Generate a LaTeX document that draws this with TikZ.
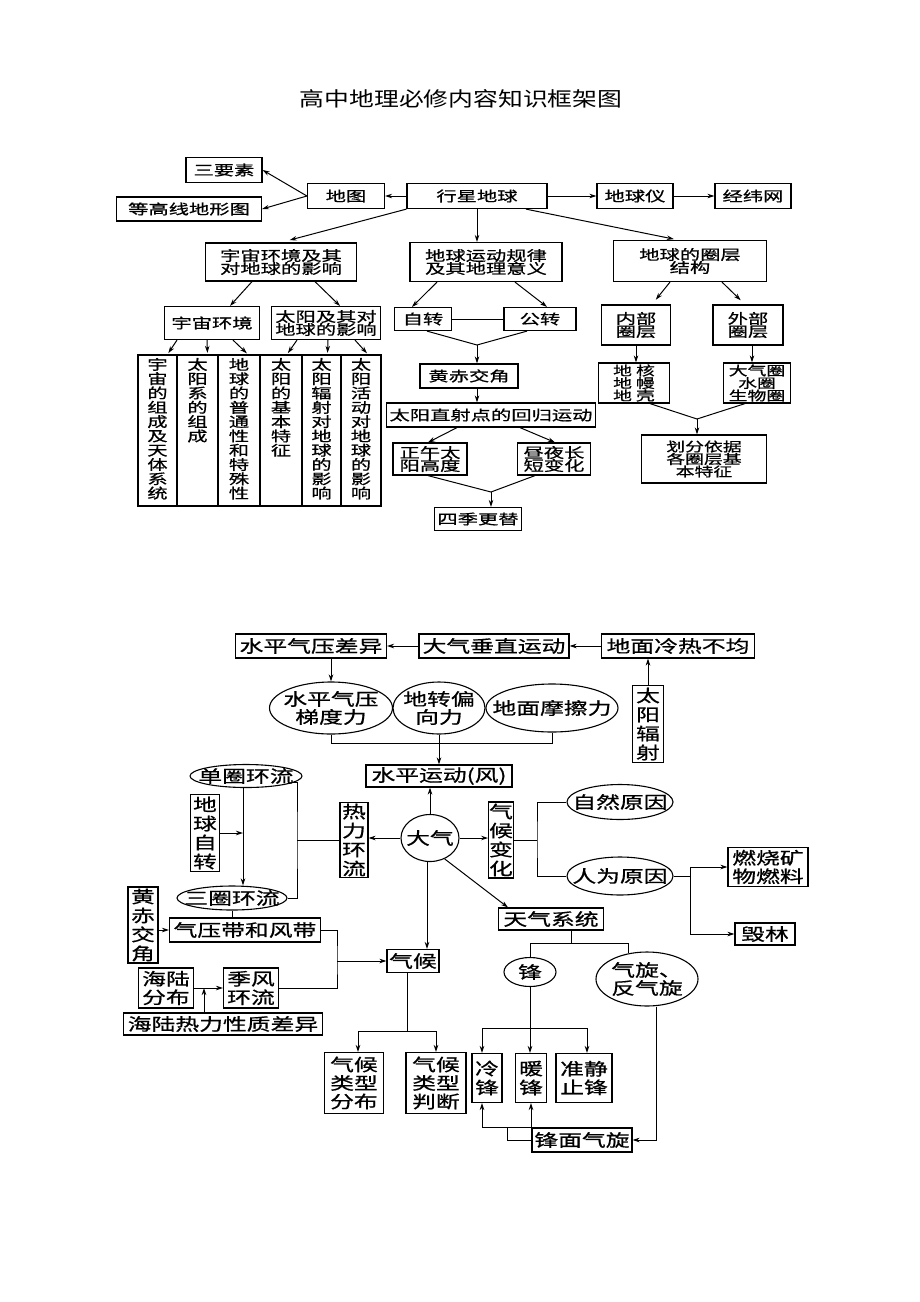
\documentclass[tikz,border=0pt]{standalone}
\usepackage{fontspec}
\setmainfont{Noto Sans CJK SC}
\newfontfamily\cjktitle[FakeStretch=1.24]{Noto Sans CJK SC}
\newfontfamily\cjktop[FakeStretch=1.45, FakeBold=0.8]{Noto Sans CJK SC}
\newfontfamily\cjkbot[FakeStretch=1.4, FakeBold=0.8]{Noto Sans CJK SC}
\newcommand\tightskip{\lineskiplimit-20pt\relax}
\usepackage{tikz}
\usetikzlibrary{shapes.geometric}
\usetikzlibrary{arrows.meta}
\tikzstyle{tbox}=[rectangle, draw, line width=1.2pt, inner sep=1pt, align=center,
  font=\cjktop\fontsize{14}{13}\selectfont\tightskip]
\tikzstyle{tsmall}=[tbox, font=\cjktop\fontsize{13}{12.5}\selectfont\tightskip]
\tikzstyle{tcol}=[tbox, inner sep=3pt, font=\cjktop\fontsize{14}{14.3}\selectfont]
\tikzstyle{bbox}=[rectangle, draw, line width=1.1pt, inner sep=1pt, align=center,
  font=\cjkbot\fontsize{17}{18.5}\selectfont]
\tikzstyle{bcol}=[bbox, inner sep=0.5pt, font=\cjkbot\fontsize{17}{19}\selectfont]
\tikzstyle{boval}=[ellipse, draw, line width=1.1pt, inner sep=0pt, align=center,
  font=\cjkbot\fontsize{17}{18}\selectfont]
\tikzstyle{arr}=[-{Stealth[length=7pt, width=4.5pt]}, line width=1pt]
\tikzstyle{lnk}=[line width=1pt]

\begin{document}
\begin{tikzpicture}[x=1pt, y=-1pt]
\useasboundingbox (0,0) rectangle (920,1302);

\node[font=\cjktitle\fontsize{20}{24}\selectfont] (title) at (461,99) {高中地理必修内容知识框架图};

% first chart: planet earth
\node[tbox, minimum width=140pt, minimum height=25pt] (xxdq) at (477,196) {行星地球};
\node[tbox, minimum width=77pt, minimum height=25pt] (ditu) at (346,196) {地图};
\node[tbox, minimum width=76pt, minimum height=25pt] (sanys) at (224,170) {三要素};
\node[tbox, minimum width=145pt, minimum height=24pt] (dgx) at (189,209) {等高线地形图};
\node[tbox, minimum width=76pt, minimum height=25pt] (dqy) at (635,196) {地球仪};
\node[tbox, minimum width=76pt, minimum height=25pt] (jww) at (753,196) {经纬网};

\node[tbox, minimum width=151pt, minimum height=38pt] (yzhj) at (281,262) {宇宙环境及其\\对地球的影响};
\node[tbox, minimum width=152pt, minimum height=39pt] (dqyd) at (486,262) {地球运动规律\\及其地理意义};
\node[tbox, minimum width=153pt, minimum height=41pt] (dqqc) at (690,261) {地球的圈层\\结构};

\node[tbox, minimum width=95pt, minimum height=33pt] (yzhjing) at (212,323) {宇宙环境};
\node[tbox, minimum width=109pt, minimum height=33pt] (tyjq) at (326,323) {太阳及其对\\地球的影响};

\node[tcol, minimum width=39pt] (c1) at (157.5,430.5) {\parbox[c][145pt][t]{22pt}{\centering 宇\\宙\\的\\组\\成\\及\\天\\体\\系\\统}};
\node[tcol, minimum width=41pt] (c2) at (197.5,430.5) {\parbox[c][145pt][t]{22pt}{\centering 太\\阳\\系\\的\\组\\成}};
\node[tcol, minimum width=42pt] (c3) at (239,430.5) {\parbox[c][145pt][t]{22pt}{\centering 地\\球\\的\\普\\通\\性\\和\\特\\殊\\性}};
\node[tcol, minimum width=42pt] (c4) at (281,430.5) {\parbox[c][145pt][t]{22pt}{\centering 太\\阳\\的\\基\\本\\特\\征}};
\node[tcol, minimum width=39pt] (c5) at (321.5,430.5) {\parbox[c][145pt][t]{22pt}{\centering 太\\阳\\辐\\射\\对\\地\\球\\的\\影\\响}};
\node[tcol, minimum width=40pt] (c6) at (361,430.5) {\parbox[c][145pt][t]{22pt}{\centering 太\\阳\\活\\动\\对\\地\\球\\的\\影\\响}};

\node[tbox, minimum width=57pt, minimum height=23pt] (zizhuan) at (423,319) {自转};
\node[tbox, minimum width=72pt, minimum height=23pt] (gongzhuan) at (540,319) {公转};
\node[tbox, minimum width=98pt, minimum height=24pt] (hcjj) at (469,376) {黄赤交角};
\node[tbox, minimum width=209pt, minimum height=24pt] (tyzs) at (491,415) {太阳直射点的回归运动};
\node[tbox, minimum width=74pt, minimum height=32pt] (zwty) at (430,459) {正午太\\阳高度};
\node[tbox, minimum width=73pt, minimum height=32pt] (zycd) at (554,459) {昼夜长\\短变化};
\node[tbox, minimum width=87pt, minimum height=23pt] (sjgt) at (478,519) {四季更替};

\node[tbox, minimum width=69pt, minimum height=40pt] (nbqc) at (636,325) {内部\\圈层};
\node[tbox, minimum width=70pt, minimum height=40pt] (wbqc) at (748,325) {外部\\圈层};
\node[tsmall, minimum width=71pt, minimum height=40pt] (dhdm) at (634,383) {地\hspace{4pt}核\\地\hspace{4pt}幔\\地\hspace{4pt}壳};
\node[tsmall, minimum width=67pt, minimum height=40pt] (dqq) at (757,383) {大气圈\\水圈\\生物圈};
\node[tsmall, minimum width=125pt, minimum height=48pt] (hfyj) at (704,459) {划分依据\\各圈层基\\本特征};

\draw[arr] (xxdq) -- (ditu);
\draw[arr] (ditu.west) -- (sanys.east);
\draw[arr] (ditu.west) -- (dgx.east);
\draw[arr] (xxdq) -- (dqy);
\draw[arr] (dqy) -- (jww);
\draw[arr, shorten >=9pt] (xxdq.south west) -- (yzhj.north);
\draw[arr] (xxdq.south) -- (xxdq.south |- dqyd.north);
\draw[arr, shorten >=4pt] (xxdq.-15) -- (dqqc.120);

\draw[arr] ([xshift=-29pt]yzhj.south) -- ([xshift=18pt]yzhjing.north);
\draw[arr] ([xshift=34pt]yzhj.south) -- ([xshift=14pt]tyjq.north);
\draw[arr, shorten >=1.5pt] ([xshift=-35pt]yzhjing.south) -- ([xshift=10pt]c1.north);
\draw[arr, shorten >=1.5pt] ([xshift=-5pt]yzhjing.south) -- ([xshift=10pt]c2.north);
\draw[arr, shorten >=1.5pt] ([xshift=21pt]yzhjing.south) -- ([xshift=9pt]c3.north);
\draw[arr, shorten >=1.5pt] ([xshift=-29pt]tyjq.south) -- ([xshift=6pt]c4.north);
\draw[arr, shorten >=1.5pt] ([xshift=2pt]tyjq.south) -- ([xshift=6pt]c5.north);
\draw[arr, shorten >=1.5pt] ([xshift=29pt]tyjq.south) -- ([xshift=7pt]c6.north);

\draw[arr] ([xshift=-49pt]dqyd.south) -- ([xshift=-11pt]zizhuan.north);
\draw[arr] ([xshift=29pt]dqyd.south) -- ([xshift=7pt]gongzhuan.north);
\draw[lnk] (zizhuan) -- (gongzhuan);
\coordinate (mz1) at (477,345);
\draw[lnk] ([xshift=4pt]zizhuan.south) -- (mz1) -- ([xshift=-13pt]gongzhuan.south);
\draw[arr] (mz1) -- (mz1 |- hcjj.north);
\draw[arr] (mz1 |- hcjj.south) -- (mz1 |- tyzs.north);
\draw[arr] ([xshift=-34pt]tyzs.south) -- ([xshift=-2pt]zwty.north);
\draw[arr] ([xshift=29pt]tyzs.south) -- ([xshift=1pt]zycd.north);
\coordinate (mz2) at (491,492);
\draw[lnk] ([xshift=-2pt]zwty.south) -- (mz2) -- ([xshift=-19pt]zycd.south);
\draw[arr] (mz2) -- (mz2 |- sjgt.north);

\draw[arr, shorten >=6pt] ([xshift=-20pt]dqqc.south) -- ([xshift=16pt]nbqc.north);
\draw[arr, shorten >=6pt] ([xshift=32pt]dqqc.south) -- ([xshift=-3pt]wbqc.north);
\draw[arr] (nbqc.south) -- (nbqc.south |- dhdm.north);
\draw[arr] ([xshift=4pt]wbqc.south) -- ([xshift=4pt]wbqc.south |- dqq.north);
\coordinate (mz3) at (697,419);
\draw[lnk] ([xshift=16pt]dhdm.south) -- (mz3) -- ([xshift=-12pt]dqq.south);
\draw[arr] (mz3) -- (mz3 |- hfyj.north);

% second chart: atmosphere
\node[bbox, minimum width=151pt, minimum height=24pt] (spqy) at (311,646) {水平气压差异};
\node[bbox, minimum width=150pt, minimum height=24pt] (dqcz) at (494,646) {大气垂直运动};
\node[bbox, minimum width=153pt, minimum height=24pt] (dmlr) at (678,646) {地面冷热不均};
\node[bcol, minimum width=31pt, minimum height=77pt] (tyfs) at (648,724) {太\\阳\\辐\\射};
\node[boval, inner xsep=-5pt, minimum width=123pt, minimum height=52pt] (tdl) at (331,708) {水平气压\\梯度力};
\node[boval, inner xsep=-4pt, minimum width=92pt, minimum height=52pt] (zxl) at (439,708) {地转偏\\向力};
\node[boval, inner xsep=-13pt, minimum width=132pt, minimum height=48pt] (mcl) at (552,708) {地面摩擦力};

\node[bbox, minimum width=146pt, minimum height=22pt] (spyd) at (439,776) {水平运动(风)};
\node[boval, inner xsep=-4pt, minimum width=58pt, minimum height=47pt] (daqi) at (430,838) {大气};
\node[bcol, minimum width=24pt, minimum height=76pt] (qhbh) at (501,840) {气\\候\\变\\化};
\node[boval, inner xsep=-11pt, minimum width=106pt, minimum height=35pt] (zryy) at (620,802) {自然原因};
\node[boval, inner xsep=-11pt, minimum width=106pt, minimum height=38pt] (rwyy) at (620,876) {人为原因};
\node[bbox, minimum width=80pt, minimum height=39pt] (rsk) at (768,867) {燃烧矿\\物燃料};
\node[bbox, minimum width=60pt, minimum height=22pt] (hl) at (765,934) {毁林};
\node[bbox, minimum width=105pt, minimum height=22pt] (tqxt) at (551,919) {天气系统};
\node[bbox, minimum width=52pt, minimum height=23pt] (qh) at (413,961) {气候};
\node[boval, minimum width=52pt, minimum height=29pt] (feng) at (530,972) {锋};
\node[boval, minimum width=102pt, minimum height=54pt] (qx) at (647,979) {气旋、\\反气旋};
\node[bcol, minimum width=30pt, minimum height=49pt] (lf) at (487,1078) {冷\\锋};
\node[bcol, minimum width=31pt, minimum height=49pt] (nf) at (531,1078) {暖\\锋};
\node[bbox, minimum width=56pt, minimum height=49pt] (zjzf) at (584,1078) {准静\\止锋};
\node[bbox, minimum width=100pt, minimum height=24pt] (fmqx) at (582,1140) {锋面气旋};
\node[bbox, minimum width=59pt, minimum height=61pt] (qhfb) at (354,1083) {气候\\类型\\分布};
\node[bbox, minimum width=60pt, minimum height=61pt] (qhpd) at (436,1083) {气候\\类型\\判断};

\node[boval, inner xsep=-9pt, inner ysep=-1pt, minimum width=112pt, minimum height=23pt] (dqhl) at (246,776) {单圈环流};
\node[bcol, minimum width=29pt, minimum height=77pt] (dqzz) at (205,833) {地\\球\\自\\转};
\node[boval, inner xsep=-9pt, inner ysep=-1pt, minimum width=110pt, minimum height=24pt] (sqhl) at (232,898) {三圈环流};
\node[bcol, minimum width=28pt, minimum height=75pt] (rlhl) at (354,840) {热\\力\\环\\流};
\node[bcol, minimum width=30pt, minimum height=76pt] (hcjj2) at (143,925) {黄\\赤\\交\\角};
\node[bbox, minimum width=151pt, minimum height=24pt] (qyd) at (245,930) {气压带和风带};
\node[bbox, minimum width=55pt, minimum height=40pt] (hlfb) at (166,988) {海陆\\分布};
\node[bbox, minimum width=55pt, minimum height=40pt] (jfhl) at (251,988) {季风\\环流};
\node[bbox, minimum width=199pt, minimum height=22pt] (hlrl) at (223,1024) {海陆热力性质差异};

\draw[arr] (dmlr) -- (dqcz);
\draw[arr] (dqcz) -- (spqy);
\draw[arr] (tyfs.north) -- (tyfs.north |- dmlr.south);
\draw[arr] ([xshift=20pt]spqy.south) -- (tdl.north);
\coordinate (brk) at (439,743);
\draw[lnk] (tdl.south) |- (brk) -| (mcl.south);
\draw[arr] (zxl.south) -- (spyd.north);

\draw[arr] (daqi.north) -- (daqi.north |- spyd.south);
\draw[arr] (daqi.west) -- (daqi.west -| rlhl.east);
\draw[arr] (daqi.east) -- (daqi.east -| qhbh.west);
\coordinate (qb) at (537,840);
\draw[lnk] (qhbh.east) -- (qb);
\draw[lnk] (zryy.west) -| (qb) |- (rwyy.west);
\coordinate (rb) at (690,876);
\draw[lnk] (rwyy.east) -- (rb);
\draw[arr] (rb) |- (rsk.west);
\draw[arr] (rb) |- (hl.west);
\draw[arr] (daqi.-55) -- ([xshift=-43pt]tqxt.north);
\draw[arr] ([xshift=-3pt]daqi.south) -- ([xshift=-3pt]daqi.south |- qh.north);

\coordinate (tb) at (571,943);
\draw[lnk] (tb |- tqxt.south) -- (tb);
\draw[lnk] (feng.north) |- (qx.125 |- tb) -- (qx.125);
\draw[arr] (feng.south) -- (feng.south |- nf.north);
\coordinate (fb) at (530,1028);
\draw[arr] (fb) -| ([xshift=-5pt]lf.north);
\draw[arr] (fb) -| ([xshift=3pt]zjzf.north);
\draw[arr] ([xshift=9pt]qx.south) |- (fmqx.east);
\coordinate (fm) at (507,1127);
\draw[lnk] (fmqx.west) -| (fm);
\draw[arr] (fm) -| ([xshift=-5pt]lf.south);
\draw[arr] (fm) -| (nf.south);
\coordinate (qhb) at (407,1031);
\draw[lnk] ([xshift=-6pt]qh.south) -- (qhb);
\draw[arr] (qhb) -| ([xshift=4pt]qhfb.north);
\draw[arr] (qhb) -| (qhpd.north);

\coordinate (sx) at (243,833);
\draw[arr] (dqhl.south -| sx) -- (sqhl.north -| sx);
\draw[arr] (dqzz.east) -- (sx);
\coordinate (rk) at (297,840);
\draw[lnk] (dqhl.-8) -| (rk) |- (sqhl.east);
\draw[lnk] (rlhl.west) -- (rlhl.west -| rk);
\draw[lnk] (sqhl.south) -- (sqhl.south |- qyd.north);
\draw[arr] (hcjj2.east |- qyd.west) -- (qyd.west);
\coordinate (qb2) at (337,961);
\draw[lnk] (qyd.east) -| (qb2) |- (jfhl.east);
\draw[arr] (qb2) -- (qh.west);
\draw[arr] (hlfb) -- (jfhl);
\draw[arr] ([xshift=-19pt]hlrl.north) -- ([xshift=-19pt]hlrl.north |- hlfb.east);

\end{tikzpicture}
\end{document}
